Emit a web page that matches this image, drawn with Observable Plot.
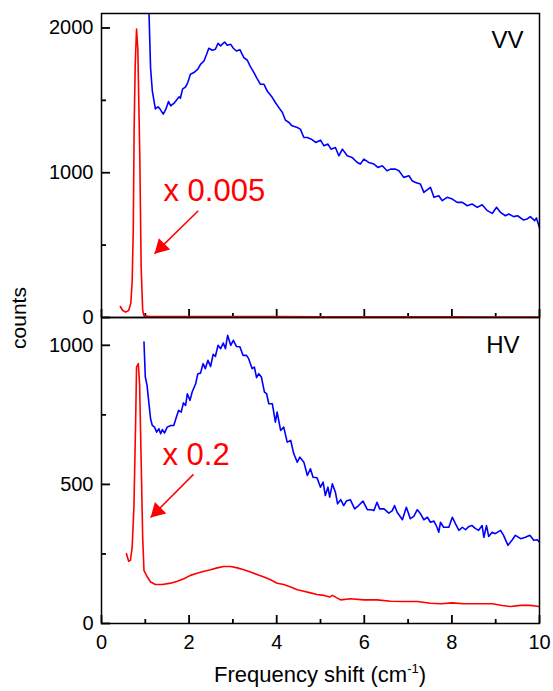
<!DOCTYPE html>
<html><head><meta charset="utf-8">
<script src="https://cdn.jsdelivr.net/npm/d3@7"></script>
<script src="https://cdn.jsdelivr.net/npm/@observablehq/plot@0.6"></script>
<style>
body{margin:0;background:#fff;}
#wrap{position:relative;width:553px;height:691px;font-family:"Liberation Sans",Arial,sans-serif;overflow:hidden;}
#wrap svg{position:absolute;left:0;overflow:visible;background:transparent;}
.lab{position:absolute;color:#000;white-space:nowrap;}
</style></head><body><div id="wrap"></div>
<script>
// ---- data ----
const xMajor = [0, 2, 4, 6, 8, 10];
const xMinor = [1, 3, 5, 7, 9];
const vvYMajor = [0, 1000, 2000];
const vvYMinor = [500, 1500];
const hvYMajor = [0, 500, 1000];
const hvYMinor = [250, 750];
const vvDomain = [0, 2100];
const hvDomain = [0, 1100];

const vvBlue = [[1.04,2600],[1.08,2150],[1.12,1726],[1.16,1566],[1.23,1441],[1.29,1455],[1.33,1443],[1.41,1405],[1.47,1439],[1.53,1492],[1.58,1462],[1.67,1485],[1.77,1524],[1.80,1515],[1.85,1577],[1.92,1593],[1.97,1623],[2.03,1680],[2.11,1692],[2.20,1715],[2.26,1749],[2.34,1772],[2.40,1818],[2.45,1860],[2.53,1846],[2.60,1853],[2.66,1894],[2.72,1876],[2.81,1903],[2.87,1880],[2.95,1887],[3.01,1860],[3.08,1841],[3.16,1850],[3.25,1795],[3.33,1777],[3.39,1738],[3.48,1692],[3.54,1657],[3.63,1611],[3.71,1611],[3.78,1566],[3.90,1519],[3.97,1485],[4.05,1450],[4.13,1416],[4.20,1363],[4.28,1347],[4.35,1324],[4.47,1312],[4.54,1301],[4.62,1243],[4.70,1243],[4.79,1232],[4.89,1209],[5.00,1225],[5.08,1186],[5.17,1198],[5.24,1163],[5.34,1174],[5.42,1117],[5.50,1163],[5.61,1117],[5.72,1106],[5.84,1071],[5.91,1060],[5.99,1094],[6.10,1071],[6.22,1060],[6.31,1037],[6.41,1048],[6.52,1014],[6.60,1025],[6.71,1025],[6.79,1014],[6.90,968],[7.02,979],[7.09,945],[7.17,933],[7.28,922],[7.36,864],[7.51,899],[7.59,830],[7.70,841],[7.78,807],[7.89,830],[8.01,818],[8.12,795],[8.24,795],[8.35,772],[8.46,784],[8.58,761],[8.69,779],[8.81,738],[8.92,719],[9.02,761],[9.11,726],[9.22,703],[9.30,715],[9.41,697],[9.50,703],[9.63,674],[9.72,681],[9.79,697],[9.89,669],[9.93,688],[10.0,620]];

const vvRed = [[0.43,76],[0.48,50],[0.55,37],[0.62,48],[0.67,100],[0.70,250],[0.725,600],[0.745,1300],[0.77,1750],[0.80,1993],[0.83,1850],[0.86,1350],[0.875,1100],[0.905,350],[0.94,50],[0.97,12],[1.1,6],[2,6],[3,7],[4,6],[5,5],[6,5],[7,4],[8,4],[9,3],[10,3]];

const hvBlue = [[0.97,1012],[1.00,886],[1.04,856],[1.08,796],[1.12,736],[1.16,712],[1.21,706],[1.26,688],[1.31,700],[1.35,682],[1.39,697],[1.44,685],[1.50,706],[1.58,712],[1.65,712],[1.71,742],[1.76,766],[1.82,760],[1.87,793],[1.92,784],[1.96,826],[2.02,802],[2.07,832],[2.15,862],[2.20,898],[2.26,900],[2.32,934],[2.37,916],[2.43,946],[2.49,924],[2.55,968],[2.60,960],[2.66,1000],[2.72,988],[2.78,1008],[2.83,988],[2.88,1036],[2.95,1000],[3.01,1018],[3.08,996],[3.16,995],[3.23,964],[3.31,964],[3.36,952],[3.44,916],[3.49,922],[3.54,884],[3.59,898],[3.65,886],[3.72,832],[3.77,826],[3.82,790],[3.90,790],[3.97,724],[4.01,760],[4.09,694],[4.16,706],[4.24,652],[4.32,658],[4.39,610],[4.47,580],[4.53,598],[4.62,580],[4.70,532],[4.77,556],[4.83,526],[4.92,524],[5.00,490],[5.06,508],[5.11,460],[5.17,490],[5.21,454],[5.27,502],[5.34,472],[5.39,430],[5.46,445],[5.53,424],[5.59,440],[5.68,445],[5.78,412],[5.87,424],[5.97,440],[6.07,409],[6.16,409],[6.22,406],[6.29,436],[6.35,412],[6.45,412],[6.56,397],[6.64,406],[6.69,424],[6.75,400],[6.87,373],[6.96,418],[7.05,377],[7.13,385],[7.21,409],[7.28,395],[7.36,373],[7.44,382],[7.51,364],[7.59,368],[7.66,346],[7.70,328],[7.74,364],[7.81,346],[7.93,346],[8.01,382],[8.08,359],[8.16,335],[8.24,346],[8.31,337],[8.39,349],[8.46,352],[8.54,341],[8.61,335],[8.69,352],[8.73,310],[8.79,352],[8.84,313],[8.92,328],[8.99,323],[9.11,335],[9.18,317],[9.28,281],[9.38,301],[9.45,317],[9.57,305],[9.68,310],[9.78,317],[9.87,299],[9.95,301],[10.0,292]];

const hvRed = [[0.57,251],[0.62,224],[0.66,227],[0.70,274],[0.74,418],[0.78,730],[0.80,922],[0.84,934],[0.87,860],[0.91,550],[0.94,310],[0.97,190],[1.04,169],[1.12,149],[1.23,140],[1.39,140],[1.58,145],[1.73,152],[1.88,161],[2.03,173],[2.18,181],[2.34,188],[2.49,193],[2.64,200],[2.79,205],[2.95,205],[3.10,200],[3.25,193],[3.40,185],[3.55,176],[3.71,167],[3.86,157],[4.01,145],[4.16,140],[4.32,131],[4.47,121],[4.62,116],[4.77,110],[4.92,104],[5.08,101],[5.21,95],[5.27,101],[5.46,85],[5.68,89],[5.99,85],[6.29,85],[6.60,80],[6.90,79],[7.21,79],[7.51,73],[7.74,71],[8.01,74],[8.27,71],[8.58,71],[8.92,71],[9.15,65],[9.34,61],[9.57,65],[9.79,65],[10.0,61]];

const vvArrow = [{x1: 2.21, y1: 738, x2: 1.21, y2: 441}];
const hvArrow = [{x1: 2.10, y1: 536, x2: 1.12, y2: 381}];
const vvNote = "x 0.005";
const hvNote = "x 0.2";
const vvLabel = "VV";
const hvLabel = "HV";

// ---- drawing ----
const FONT = '"Liberation Sans", Arial, sans-serif';
const BLUE = "#0000ff", RED = "#ff0000";
const W = 553, ML = 101, MR = 14, FW = W - ML - MR;

function panel(o) {
  const FH = o.height - o.marginTop - o.marginBottom;
  return Plot.plot({
    width: W, height: o.height,
    marginLeft: ML, marginRight: MR, marginTop: o.marginTop, marginBottom: o.marginBottom,
    style: {fontFamily: FONT, fontSize: "20px", background: "transparent", overflow: "visible", color: "black"},
    x: {domain: [0, 10]},
    y: {domain: o.yDomain},
    marks: [
      Plot.axisX({ticks: xMajor, tickSize: 0, tickPadding: 11,
        tickFormat: o.xLabels ? (d => String(d)) : (() => ""), label: null}),
      Plot.axisY({ticks: o.yMajor, tickSize: 0, tickPadding: 8,
        tickFormat: d => String(d), label: null}),
      // inward tick marks
      Plot.ruleX(xMajor, {x: d => d, insetTop: FH - 8, stroke: "black", strokeWidth: 1.8}),
      Plot.ruleX(xMinor, {x: d => d, insetTop: FH - 4, stroke: "black", strokeWidth: 1.8}),
      Plot.ruleY(o.yMajor, {y: d => d, insetRight: FW - 9, stroke: "black", strokeWidth: 1.8}),
      Plot.ruleY(o.yMinor, {y: d => d, insetRight: FW - 5, stroke: "black", strokeWidth: 1.8}),
      Plot.line(o.blue, {x: d => d[0], y: d => d[1], stroke: BLUE, strokeWidth: 1.6, clip: true}),
      Plot.line(o.red, {x: d => d[0], y: d => d[1], stroke: RED, strokeWidth: 1.6, clip: true}),
      Plot.link(o.arrow, {x1: "x1", y1: "y1", x2: "x2", y2: "y2", stroke: RED, strokeWidth: 1.5}),
      Plot.dot(o.arrow, {x: "x2", y: "y2", symbol: "triangle", r: 6, fill: RED, stroke: "none",
        rotate: 225, dx: 6.7, dy: -6.5}),
      Plot.text([o.note], {text: d => d, frameAnchor: "top-left", textAnchor: "start", lineAnchor: "middle",
        dx: o.noteDx, dy: o.noteDy, fill: RED, fontSize: 31}),
      Plot.text([o.label], {text: d => d, frameAnchor: "top-right", textAnchor: "end", lineAnchor: "top",
        dx: o.labelDx, dy: o.labelDy, fill: "black", fontSize: 24}),
      Plot.frame({stroke: "black", strokeWidth: 1.5})
    ]
  });
}

const wrap = document.getElementById("wrap");

const topPanel = panel({height: 330, marginTop: 13, marginBottom: 13, yDomain: vvDomain,
  yMajor: vvYMajor, yMinor: vvYMinor, blue: vvBlue, red: vvRed, arrow: vvArrow,
  note: vvNote, noteDx: 62, noteDy: 178, label: vvLabel, labelDx: -16, labelDy: 17, xLabels: false});
topPanel.style.top = "0px";

const bottomPanel = panel({height: 391, marginTop: 17, marginBottom: 68, yDomain: hvDomain,
  yMajor: hvYMajor, yMinor: hvYMinor, blue: hvBlue, red: hvRed, arrow: hvArrow,
  note: hvNote, noteDx: 61, noteDy: 138, label: hvLabel, labelDx: -20, labelDy: 18, xLabels: true});
bottomPanel.style.top = "300px";

wrap.appendChild(bottomPanel);
wrap.appendChild(topPanel);

const ylab = document.createElement("div");
ylab.className = "lab";
ylab.textContent = "counts";
ylab.style.cssText += "left:18px;top:318px;font-size:21px;line-height:21px;transform:translate(-50%,-50%) rotate(-90deg);";
wrap.appendChild(ylab);

const xlab = document.createElement("div");
xlab.className = "lab";
xlab.innerHTML = 'Frequency shift (cm<sup style="font-size:13px;vertical-align:9px;line-height:0">-1</sup>)';
xlab.style.cssText += "left:101px;width:438px;text-align:center;top:664px;font-size:22px;line-height:22px;";
wrap.appendChild(xlab);
</script>
</body></html>
